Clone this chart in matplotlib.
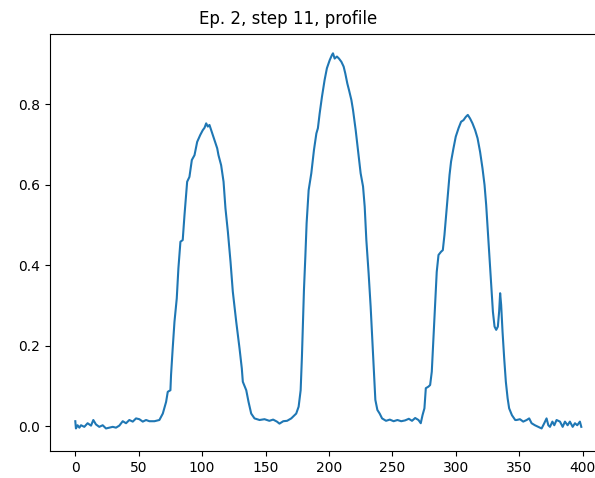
import matplotlib
matplotlib.use("Agg")
import matplotlib.pyplot as plt

title = "Ep. 2, step 11, profile"

x_vals = [
    0, 0.5, 1.8, 3.2, 4.5, 7.1, 9.7, 12.4, 14.2, 16.3, 18.9, 21.6, 24.2, 26.8,
    29.5, 32.1, 34.7, 37.4, 40.0, 42.6, 45.3, 47.9, 50.5, 53.2, 55.8, 58.4,
    62.4, 66.3, 69.0, 71.6, 72.9, 75.0, 75.5, 76.8, 78.2, 80.0, 81.3, 82.9,
    84.7, 86.1, 88.2, 90.0, 91.9, 94.0, 96.1, 98.5, 100.5, 101.9, 103.2,
    104.5, 105.8, 107.6, 109.8, 111.9, 112.9, 115.0, 116.9, 118.4, 120.3,
    122.4, 124.2, 126.9, 129.5, 131.3, 132.1, 134.8, 136.6, 138.7, 141.3,
    145.3, 149.2, 153.0, 156.0, 159.0, 161.0, 164.0, 167.0, 170.3, 174.2,
    176.1, 177.7, 178.7, 179.5, 180.3, 181.4, 182.4, 184.0, 186.1, 188.2,
    190.1, 191.3, 192.7, 194.5, 196.6, 198.4, 200.6, 202.4, 203.2, 204.5,
    206.3, 207.9, 209.8, 211.6, 212.9, 214.5, 215.8, 217.7, 219.0, 221.1,
    222.9, 225.0, 226.9, 228.2, 229.5, 231.3, 232.9, 234.2, 235.5, 236.6,
    238.2, 240.0, 241.9, 245.0, 248.0, 251.0, 254.0, 257.0, 260.0, 263.0,
    265.5, 268.0, 270.6, 272.4, 273.8, 275.3, 276.4, 278.5, 279.8, 281.1,
    282.4, 283.7, 285.0, 286.4, 288.4, 289.8, 291.1, 292.4, 293.7, 295.1,
    296.3, 298.2, 300.0, 302.2, 304.2, 306.1, 307.9, 309.5, 311.3, 313.2,
    315.3, 317.2, 319.2, 321.1, 322.7, 324.0, 325.3, 326.6, 327.9, 329.3,
    330.6, 331.9, 333.2, 334.2, 335.0, 335.8, 336.9, 338.2, 339.5, 340.9,
    342.1, 344.3, 346.9, 348.0, 350.6, 353.2, 355.9, 357.9, 359.8, 362.4,
    365.0, 367.7, 369.8, 371.6, 373.0, 374.3, 376.2, 377.7, 379.5, 382.2,
    384.3, 386.1, 388.2, 390.0, 392.2, 394.0, 395.8, 397.9, 399.0,
]

y_vals = [
    0.012, -0.006, 0.002, -0.004, 0.002, -0.002, 0.007, 0.001, 0.015, 0.004,
    -0.002, 0.002, -0.006, -0.004, -0.002, -0.004, 0.001, 0.012, 0.007,
    0.015, 0.011, 0.019, 0.017, 0.011, 0.015, 0.012,
    0.012, 0.015, 0.031, 0.060, 0.085, 0.089, 0.127, 0.193, 0.259, 0.317,
    0.392, 0.458, 0.462, 0.524, 0.607, 0.619, 0.661, 0.673, 0.706, 0.723,
    0.735, 0.741, 0.752, 0.744, 0.748, 0.731, 0.711, 0.690, 0.673, 0.648,
    0.607, 0.541, 0.483, 0.408, 0.334, 0.259, 0.193, 0.143, 0.110, 0.089,
    0.060, 0.031, 0.019, 0.015, 0.017, 0.013, 0.016, 0.011, 0.006, 0.012,
    0.013, 0.019, 0.031, 0.048, 0.089, 0.172, 0.255, 0.338, 0.421, 0.504,
    0.586, 0.628, 0.686, 0.727, 0.740, 0.777, 0.818, 0.860, 0.889, 0.909,
    0.922, 0.926, 0.913, 0.918, 0.913, 0.905, 0.893, 0.876, 0.851, 0.835,
    0.810, 0.785, 0.735, 0.686, 0.628, 0.595, 0.545, 0.462, 0.379, 0.296,
    0.214, 0.131, 0.065, 0.040, 0.031, 0.019, 0.013, 0.016, 0.012, 0.015,
    0.012, 0.014, 0.018, 0.013, 0.020, 0.015, 0.007, 0.027, 0.044, 0.094,
    0.098, 0.102, 0.135, 0.218, 0.301, 0.383, 0.425, 0.433, 0.437, 0.475,
    0.524, 0.574, 0.624, 0.657, 0.690, 0.719, 0.740, 0.756, 0.760, 0.768,
    0.773, 0.764, 0.752, 0.735, 0.715, 0.681, 0.640, 0.599, 0.549, 0.483,
    0.417, 0.350, 0.284, 0.247, 0.239, 0.247, 0.284, 0.330, 0.301, 0.234,
    0.168, 0.110, 0.069, 0.044, 0.027, 0.015, 0.015, 0.017, 0.011, 0.015,
    0.019, 0.007, 0.002, -0.002, -0.006, 0.007, 0.019, 0.002, -0.002, 0.011,
    0.002, 0.015, 0.011, -0.002, 0.011, 0.002, 0.011, -0.002, 0.007, 0.002,
    0.011, -0.002,
]

fig = plt.figure(figsize=(5.95, 4.78), dpi=100)
ax = fig.add_axes([50 / 595, 1 - 451 / 478, 556.6 / 595, 417 / 478])
ax.plot(x_vals, y_vals, color="#1f77b4", linewidth=1.5)
ax.set_xlim(-19.95, 418.95)
ax.set_ylim(-0.062, 0.974)
ax.set_xticks([0, 50, 100, 150, 200, 250, 300, 350, 400])
ax.set_yticks([0.0, 0.2, 0.4, 0.6, 0.8])
ax.spines["right"].set_visible(False)
fig.text(288.5 / 595, 1 - 19 / 478, title, ha="center", va="center", fontsize=12)
fig.savefig("out.png", dpi=100)
